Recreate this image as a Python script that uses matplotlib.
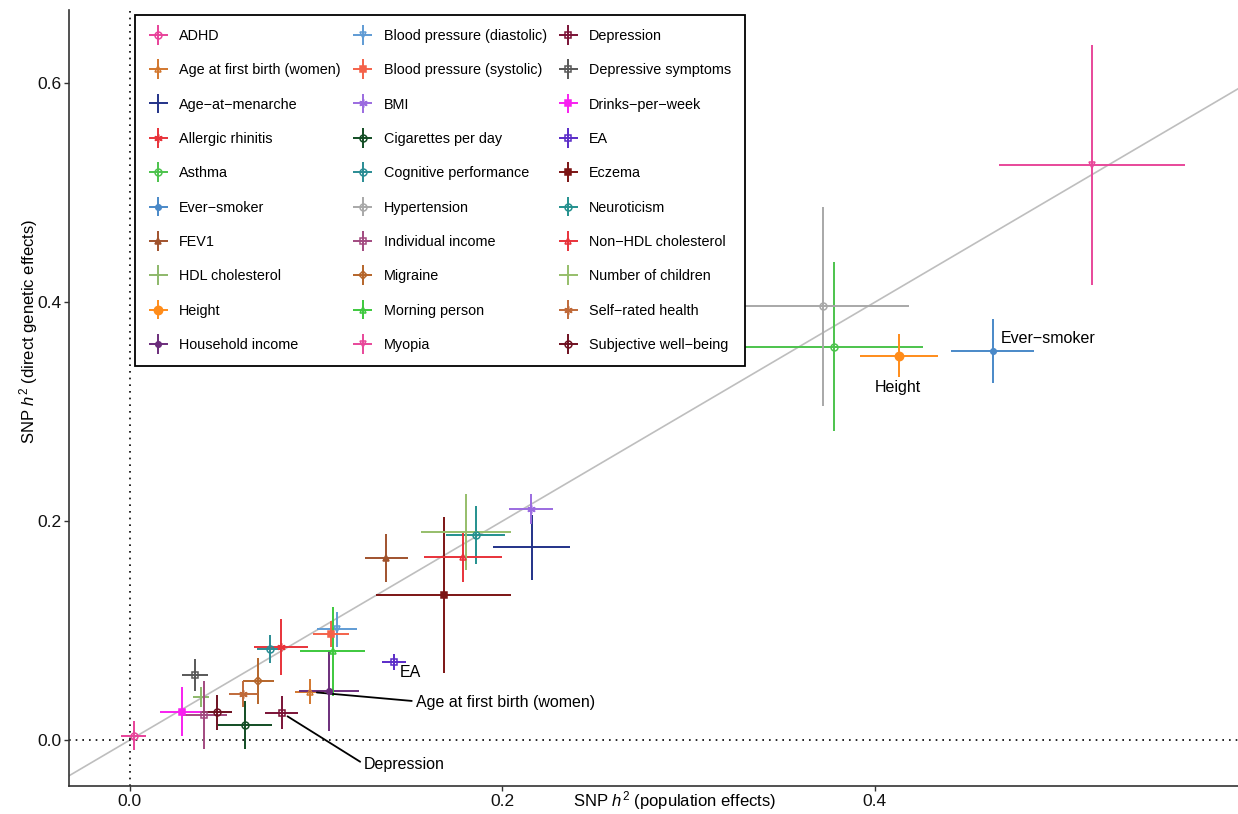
import matplotlib
matplotlib.use("Agg")
import matplotlib.pyplot as plt
from matplotlib.container import ErrorbarContainer
from matplotlib.legend_handler import HandlerErrorbar

plt.rcParams["font.family"] = ["Liberation Sans", "DejaVu Sans"]
plt.rcParams["mathtext.fontset"] = "custom"
plt.rcParams["mathtext.rm"] = "Liberation Sans"
plt.rcParams["mathtext.it"] = "Liberation Sans:italic"

# traits, in legend order (column by column)
traits = [
    "ADHD", "Age at first birth (women)", "Age\u2212at\u2212menarche", "Allergic rhinitis", "Asthma",
    "Ever\u2212smoker", "FEV1", "HDL cholesterol", "Height", "Household income",
    "Blood pressure (diastolic)", "Blood pressure (systolic)", "BMI", "Cigarettes per day",
    "Cognitive performance", "Hypertension", "Individual income", "Migraine", "Morning person", "Myopia",
    "Depression", "Depressive symptoms", "Drinks\u2212per\u2212week", "EA", "Eczema",
    "Neuroticism", "Non\u2212HDL cholesterol", "Number of children", "Self\u2212rated health",
    "Subjective well\u2212being",
]

# SNP h2 from population effects (x) and its SE
pop_h2 = [0.002, 0.0967, 0.2157, 0.081, 0.3782, 0.4632, 0.1377, 0.038, 0.4129, 0.107,
          0.111, 0.108, 0.2155, 0.062, 0.075, 0.3721, 0.040, 0.069, 0.109, 0.5167,
          0.0815, 0.035, 0.028, 0.142, 0.1686, 0.1856, 0.1788, 0.1806, 0.061, 0.047]
pop_se = [0.0067, 0.0078, 0.0208, 0.0145, 0.0477, 0.0222, 0.0117, 0.0043, 0.021, 0.016,
          0.0107, 0.0094, 0.0117, 0.0145, 0.0067, 0.0465, 0.012, 0.0085, 0.0175, 0.0501,
          0.009, 0.0072, 0.0116, 0.0065, 0.0362, 0.0158, 0.021, 0.0242, 0.008, 0.008]

# SNP h2 from direct genetic effects (y) and its SE
dir_h2 = [0.004, 0.044, 0.176, 0.085, 0.3592, 0.3555, 0.1665, 0.0395, 0.351, 0.045,
          0.101, 0.097, 0.211, 0.0137, 0.083, 0.3963, 0.023, 0.054, 0.081, 0.5251,
          0.025, 0.059, 0.026, 0.071, 0.1324, 0.1872, 0.1668, 0.190, 0.042, 0.0255]
dir_se = [0.013, 0.0114, 0.030, 0.0256, 0.0772, 0.029, 0.0218, 0.0091, 0.0196, 0.0365,
          0.016, 0.012, 0.0134, 0.022, 0.013, 0.0909, 0.031, 0.021, 0.041, 0.1096,
          0.015, 0.0146, 0.022, 0.0073, 0.0715, 0.0263, 0.0226, 0.0347, 0.012, 0.016]

# labelled traits and where the labels sit
label_names = ["EA", "Age at first birth (women)", "Depression", "Height", "Ever\u2212smoker"]
label_x = [0.145, 0.1536, 0.1258, 0.4124, 0.4677]
label_y = [0.0615, 0.0347, -0.0228, 0.3224, 0.3671]

colors = [
    "#E8429A", "#D2772E", "#233288", "#E8333A", "#4CC34C",
    "#4A89C8", "#A0522D", "#8DB86A", "#FF8C1A", "#6B2D7B",
    "#5F9BD4", "#F4624A", "#9B6BE0", "#124D24", "#2A8C94",
    "#A8A8A8", "#A24A80", "#B5652A", "#3DC83D", "#E8489A",
    "#7A1236", "#585858", "#F820F0", "#5A2BC8", "#7C1414",
    "#24908E", "#E8323A", "#96BE6A", "#C06A3A", "#6E1020",
]
ast = (6, 2, 0)
markers = ["o", "^", "", ast, "o", "o", "^", "", "o", "o",
           "v", "s", ast, "o", "o", "o", "s", "D", "^", "v",
           "s", "s", "s", "s", "s", "o", "^", "", ast, "o"]
filled = [False, False, False, False, False, True, True, False, True, True,
          False, True, False, False, False, False, False, False, False, False,
          False, False, True, False, True, False, False, False, False, False]
msizes = [5, 5, 5, 6, 5, 4, 5, 5, 6, 4,
          5, 5, 6, 5, 5, 5, 5, 4, 5, 5,
          5, 5, 5, 5, 5, 5, 5, 5, 6, 5]

fig = plt.figure(figsize=(12.38, 8.14), dpi=100)
ax = fig.add_axes([0.056, 0.0344, 0.944, 0.9533])

ax.axline((0, 0), slope=1, color="#BEBEBE", lw=1.2, zorder=1)
ax.axhline(0, color="black", lw=1.2, ls=(0, (1, 3)), zorder=1)
ax.axvline(0, color="black", lw=1.2, ls=(0, (1, 3)), zorder=1)

handles = []
for i, name in enumerate(traits):
    h = ax.errorbar(pop_h2[i], dir_h2[i], xerr=pop_se[i], yerr=dir_se[i],
                    color=colors[i], ecolor=colors[i], elinewidth=1.4, capsize=0,
                    marker=markers[i] if markers[i] != "" else None, ms=msizes[i],
                    mfc=colors[i] if filled[i] else "none", mec=colors[i], mew=1.1,
                    ls="none", label=name, zorder=3)
    handles.append(h)

for name, tx, ty in zip(label_names, label_x, label_y):
    i = traits.index(name)
    if name in ("Age at first birth (women)", "Depression"):
        ax.annotate(name, xy=(pop_h2[i], dir_h2[i]), xytext=(tx, ty),
                    ha="left", va="center", fontsize=11.5,
                    arrowprops=dict(arrowstyle="-", color="black", lw=1.3,
                                    relpos=(0, 0.55), shrinkA=1, shrinkB=5))
    else:
        ha = "center" if name == "Height" else "left"
        ax.text(tx, ty, name, ha=ha, va="center", fontsize=11.5)

ax.set_xlim(-0.0325, 0.595)
ax.set_ylim(-0.042, 0.667)
ax.set_xticks([0.0, 0.2, 0.4])
ax.set_yticks([0.0, 0.2, 0.4, 0.6])
ax.xaxis.set_major_formatter(matplotlib.ticker.FormatStrFormatter("%.1f"))
ax.yaxis.set_major_formatter(matplotlib.ticker.FormatStrFormatter("%.1f"))
ax.tick_params(direction="out", length=3.5, width=1, color="#333333",
               labelsize=12.5, labelcolor="#111111", pad=2)
for s in ["top", "right"]:
    ax.spines[s].set_visible(False)
for s in ["left", "bottom"]:
    ax.spines[s].set_linewidth(1.2)
    ax.spines[s].set_color("#333333")

ax.set_xlabel("SNP $\\mathit{h}^2$ (population effects)", fontsize=12)
ax.xaxis.set_label_coords(0.518, -0.019)
ax.xaxis.label.set_va("center")
ax.set_ylabel("SNP $\\mathit{h}^2$ (direct genetic effects)", fontsize=12)
ax.yaxis.set_label_coords(-0.035, 0.586)
ax.yaxis.label.set_va("center")

leg = ax.legend(handles=handles, ncol=3, loc="upper left",
                bbox_to_anchor=(0.0558, 0.9935), fontsize=10.4,
                frameon=True, fancybox=False, edgecolor="black", framealpha=1,
                labelspacing=1.41, handlelength=1.4, handletextpad=0.75,
                columnspacing=0.8, borderpad=0.95, borderaxespad=0,
                handler_map={ErrorbarContainer: HandlerErrorbar(xerr_size=0.68)})
leg.get_frame().set_linewidth(1.3)
leg.set_zorder(5)

fig.savefig("out.png", dpi=100)
